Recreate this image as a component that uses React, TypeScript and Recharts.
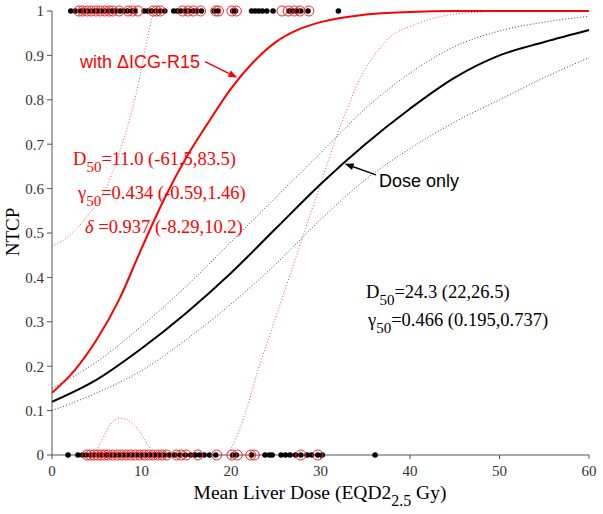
import React from 'react';
import { ComposedChart, Line, Scatter, XAxis, YAxis, ReferenceLine } from 'recharts';

// fitted curves
const curveDose = [0, 5, 10, 15, 20, 25, 30, 35, 40, 45, 50, 55, 60];
const doseOnlyFit = [0.12, 0.17, 0.24, 0.32, 0.41, 0.51, 0.61, 0.7, 0.78, 0.85, 0.9, 0.93, 0.957];
const doseOnlyUpper = [0.15, 0.21, 0.29, 0.38, 0.48, 0.58, 0.68, 0.78, 0.86, 0.92, 0.955, 0.975, 0.988];
const doseOnlyLower = [0.1, 0.14, 0.19, 0.26, 0.34, 0.43, 0.53, 0.62, 0.69, 0.75, 0.8, 0.85, 0.895];

const icgDose = [0, 2.5, 5, 7.5, 10, 12.5, 15, 17.5, 20, 22.5, 25, 27.5, 30, 35, 40, 45, 50, 60];
const icgFit = [0.14, 0.19, 0.26, 0.35, 0.465, 0.575, 0.67, 0.75, 0.825, 0.885, 0.93, 0.958, 0.975, 0.992, 0.998, 1, 1, 1];

const icgBandADose = [0, 1, 2, 3, 4, 5, 6, 7, 8, 9, 10, 11, 11.4];
const icgBandA = [0.47, 0.48, 0.495, 0.515, 0.54, 0.565, 0.6, 0.65, 0.71, 0.78, 0.87, 0.97, 1];
const icgBandBDose = [4.6, 5, 5.5, 6, 6.5, 7, 7.5, 8, 8.5, 9, 9.5, 10, 10.5, 11, 11.3];
const icgBandB = [0, 0.01, 0.03, 0.05, 0.068, 0.079, 0.083, 0.082, 0.078, 0.07, 0.06, 0.046, 0.03, 0.012, 0];
const icgBandCDose = [19.5, 20, 21, 22, 23, 24, 25, 26, 27, 28, 29, 30, 31, 32, 33, 34, 35, 36, 37, 38, 40, 42, 45, 48, 50, 60];
const icgBandC = [0, 0.015, 0.06, 0.12, 0.19, 0.25, 0.31, 0.37, 0.43, 0.49, 0.55, 0.61, 0.67, 0.73, 0.78, 0.83, 0.87, 0.9, 0.925, 0.945, 0.965, 0.98, 0.993, 0.998, 1, 1];

// patients (mean liver dose), toxicity = 1 / 0
const toxBlack = [2.1, 2.6, 3.2, 3.6, 4.0, 4.4, 4.8, 5.1, 5.5, 5.9, 6.3, 6.7, 7.1, 7.6, 8.0, 8.4, 8.9, 9.3, 10.3, 10.7, 11.1, 11.6, 12.1, 12.6, 13.6, 14.0, 14.4, 14.9, 15.3, 15.8, 16.2, 16.7, 18.1, 18.5, 20.2, 20.5, 22.3, 22.7, 23.1, 23.5, 24.0, 24.7, 26.5, 26.9, 27.3, 27.8, 28.6, 32.0];
const toxRed = [3.0, 3.4, 3.9, 4.4, 4.9, 5.4, 5.9, 6.4, 6.8, 7.5, 8.5, 9.0, 9.6, 11.3, 11.7, 12.1, 14.6, 15.2, 15.8, 16.6, 18.3, 18.6, 20.1, 20.6, 25.7, 26.4, 27.1, 27.7, 28.7];
const noToxBlack = [1.8, 2.9, 3.4, 3.8, 4.3, 4.7, 5.2, 5.6, 6.1, 6.6, 7.0, 7.5, 8.0, 8.5, 9.0, 9.5, 10.0, 10.5, 11.0, 11.5, 12.0, 12.5, 13.1, 13.7, 14.3, 14.9, 15.5, 16.0, 16.5, 17.0, 17.6, 18.3, 20.2, 20.6, 22.3, 23.8, 24.3, 24.6, 25.6, 26.1, 26.6, 27.2, 27.8, 28.5, 29.0, 29.7, 30.2, 36.1];
const noToxRed = [3.9, 4.3, 4.7, 5.1, 5.5, 5.9, 6.3, 6.8, 7.3, 7.8, 8.3, 8.8, 9.3, 9.8, 10.3, 10.8, 11.3, 11.8, 12.3, 12.8, 13.9, 14.4, 15.0, 16.3, 18.4, 20.1, 20.7, 22.2, 22.6, 27.8, 29.7];

const xTicks = [0, 10, 20, 30, 40, 50, 60];
const yTicks = [0, 0.1, 0.2, 0.3, 0.4, 0.5, 0.6, 0.7, 0.8, 0.9, 1];

const toPts = (xs: number[], ys: number[]) => xs.map((d, i) => ({ d, v: ys[i] }));
const atLevel = (xs: number[], v: number) => xs.map((d) => ({ d, v }));

const serif = '"Liberation Serif", "Times New Roman", serif';
const sans = '"Liberation Sans", Arial, sans-serif';

const Arrow = (color: string) => (p: any) => {
  const { x1, y1, x2, y2 } = p;
  const a = Math.atan2(y2 - y1, x2 - x1);
  const L = 9;
  const w = 3.5;
  const bx = x2 - L * Math.cos(a);
  const by = y2 - L * Math.sin(a);
  const px = -Math.sin(a) * w;
  const py = Math.cos(a) * w;
  return (
    <g>
      <line x1={x1} y1={y1} x2={bx} y2={by} stroke={color} strokeWidth={1.5} />
      <polygon points={`${x2},${y2} ${bx + px},${by + py} ${bx - px},${by - py}`} fill={color} />
    </g>
  );
};

const blackDot = (p: any) => <circle cx={p.cx} cy={p.cy} r={2.8} fill="#000" />;
const redRing = (p: any) => <circle cx={p.cx} cy={p.cy} r={5} fill="none" stroke="#ff2020" strokeWidth={1} />;

export default function App() {
  return (
    <div style={{ position: 'absolute', left: 0, top: 0, width: 603, height: 514, background: '#fff' }}>
      <ComposedChart width={603} height={514} margin={{ top: 11, right: 14, bottom: 0, left: 0 }}>
        <XAxis
          type="number"
          dataKey="d"
          domain={[0, 60]}
          ticks={xTicks}
          stroke="#555"
          tickSize={4}
          tickMargin={6}
          height={59}
          tick={{ fill: '#333', fontSize: 15, fontFamily: serif }}
        />
        <YAxis
          type="number"
          dataKey="v"
          domain={[0, 1]}
          ticks={yTicks}
          stroke="#555"
          tickSize={5}
          tickMargin={3}
          width={52}
          tick={{ fill: '#333', fontSize: 15, fontFamily: serif }}
        />
        <Line data={toPts(curveDose, doseOnlyUpper)} dataKey="v" type="monotone" stroke="#444" strokeWidth={1} strokeDasharray="1 2" dot={false} isAnimationActive={false} />
        <Line data={toPts(curveDose, doseOnlyLower)} dataKey="v" type="monotone" stroke="#444" strokeWidth={1} strokeDasharray="1 2" dot={false} isAnimationActive={false} />
        <Line data={toPts(icgBandADose, icgBandA)} dataKey="v" type="monotone" stroke="#ff5050" strokeWidth={1} strokeDasharray="1 2" dot={false} isAnimationActive={false} />
        <Line data={toPts(icgBandBDose, icgBandB)} dataKey="v" type="monotone" stroke="#ff5050" strokeWidth={1} strokeDasharray="1 2" dot={false} isAnimationActive={false} />
        <Line data={toPts(icgBandCDose, icgBandC)} dataKey="v" type="monotone" stroke="#ff5050" strokeWidth={1} strokeDasharray="1 2" dot={false} isAnimationActive={false} />
        <Line data={toPts(curveDose, doseOnlyFit)} dataKey="v" type="monotone" stroke="#000" strokeWidth={2} dot={false} isAnimationActive={false} />
        <Line data={toPts(icgDose, icgFit)} dataKey="v" type="monotone" stroke="#ff0000" strokeWidth={2} dot={false} isAnimationActive={false} />
        <Scatter data={atLevel(toxBlack, 1)} dataKey="v" shape={blackDot} isAnimationActive={false} />
        <Scatter data={atLevel(noToxBlack, 0)} dataKey="v" shape={blackDot} isAnimationActive={false} />
        <Scatter data={atLevel(toxRed, 1)} dataKey="v" shape={redRing} isAnimationActive={false} />
        <Scatter data={atLevel(noToxRed, 0)} dataKey="v" shape={redRing} isAnimationActive={false} />
        <ReferenceLine segment={[{ x: 17.1, y: 0.886 }, { x: 20.7, y: 0.85 }]} shape={Arrow('#ff0000')} />
        <ReferenceLine segment={[{ x: 36.2, y: 0.631 }, { x: 32.7, y: 0.656 }]} shape={Arrow('#000')} />
      </ComposedChart>
      <svg width={603} height={514} style={{ position: 'absolute', left: 0, top: 0, pointerEvents: 'none' }}>
        <text x={80} y={68} fill="#ff0000" fontFamily={sans} fontSize={18}>with ΔICG-R15</text>
        <text x={379} y={187} fill="#000" fontFamily={sans} fontSize={18}>Dose only</text>
        <g fill="#ff0000" fontFamily={serif} fontSize={18.5}>
          <text x={73} y={165}>D<tspan fontSize={15} dy={7}>50</tspan><tspan dy={-7}>=11.0 (-61.5,83.5)</tspan></text>
          <text x={78} y={199}>γ<tspan fontSize={15} dy={7}>50</tspan><tspan dy={-7}>=0.434 (-0.59,1.46)</tspan></text>
          <text x={85} y={233}><tspan fontStyle="italic">δ</tspan> =0.937 (-8.29,10.2)</text>
        </g>
        <g fill="#000" fontFamily={serif} fontSize={18.5}>
          <text x={366} y={298}>D<tspan fontSize={15} dy={7}>50</tspan><tspan dy={-7}>=24.3 (22,26.5)</tspan></text>
          <text x={368} y={326}>γ<tspan fontSize={15} dy={7}>50</tspan><tspan dy={-7}>=0.466 (0.195,0.737)</tspan></text>
        </g>
        <text x={19} y={232} fill="#000" fontFamily={serif} fontSize={19} textAnchor="middle" transform="rotate(-90 19 232)">NTCP</text>
        <text x={320} y={499} fill="#000" fontFamily={serif} fontSize={19.5} textAnchor="middle">
          Mean Liver Dose (EQD2<tspan fontSize={16} dy={7}>2.5</tspan><tspan dy={-7}> Gy)</tspan>
        </text>
      </svg>
    </div>
  );
}
